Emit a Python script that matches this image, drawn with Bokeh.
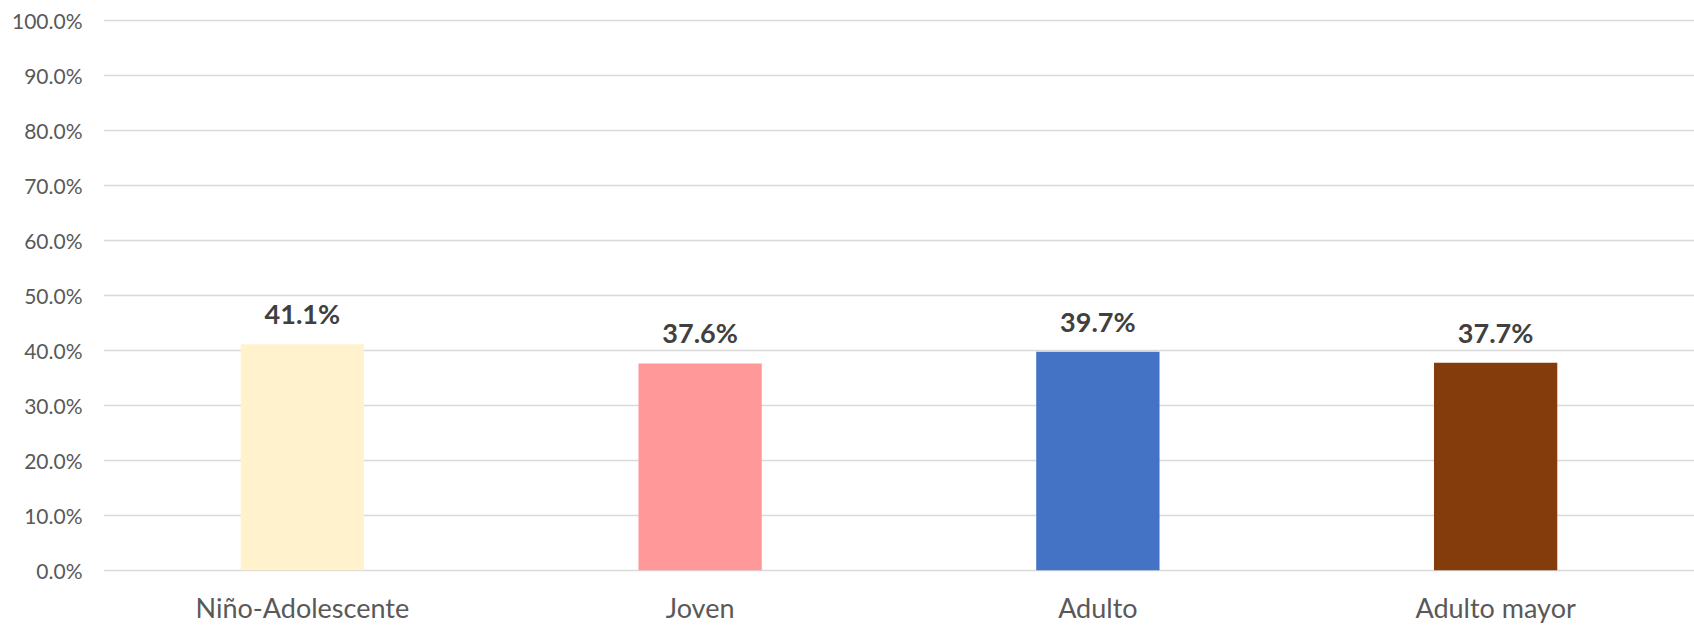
from bokeh.plotting import figure
from bokeh.models import ColumnDataSource, Range1d, FactorRange, LabelSet, NumeralTickFormatter, FixedTicker
from bokeh.core.properties import value
from bokeh.embed import file_html
from bokeh.resources import INLINE

categories = ["Niño-Adolescente", "Joven", "Adulto", "Adulto mayor"]
values = [0.411, 0.376, 0.397, 0.377]
colors = ["#FFF2CC", "#FF9999", "#4472C4", "#843C0C"]
labels = ["41.1%", "37.6%", "39.7%", "37.7%"]
y_ticks = [0.0, 0.1, 0.2, 0.3, 0.4, 0.5, 0.6, 0.7, 0.8, 0.9, 1.0]

source = ColumnDataSource(dict(cat=categories, val=values, color=colors, label=labels))

p = figure(
    x_range=FactorRange(factors=categories, range_padding=0),
    y_range=Range1d(-0.004, 1.01),
    width=1694, height=628,
    output_backend="svg", toolbar_location=None,
    min_border_left=103, min_border_right=0, min_border_top=14, min_border_bottom=56,
)
p.outline_line_color = None
p.background_fill_color = "white"
p.border_fill_color = "white"

p.vbar(x="cat", top="val", width=0.31, bottom=0, color="color", line_color=None, source=source)

ls = LabelSet(x="cat", y="val", text="label", source=source, y_offset=20,
              text_align="center", text_baseline="alphabetic",
              text_font=value("Lato"), text_font_style="bold", text_font_size="27px",
              text_color="#404040")
p.add_layout(ls)

p.xgrid.grid_line_color = None
p.ygrid.grid_line_color = "#D9D9D9"
p.ygrid.grid_line_width = 1.5
p.ygrid.ticker = FixedTicker(ticks=y_ticks)

p.yaxis.ticker = FixedTicker(ticks=y_ticks)
p.yaxis.formatter = NumeralTickFormatter(format="0.0%")
p.yaxis.axis_line_color = None
p.yaxis.major_tick_line_color = None
p.yaxis.minor_tick_line_color = None
p.yaxis.major_tick_out = 0
p.yaxis.minor_tick_out = 0
p.yaxis.major_label_standoff = 21
p.yaxis.major_label_text_font = "Lato"
p.yaxis.major_label_text_font_size = "21px"
p.yaxis.major_label_text_color = "#595959"

p.xaxis.axis_line_color = None
p.xaxis.major_tick_line_color = None
p.xaxis.major_tick_out = 0
p.xaxis.major_label_standoff = 18
p.xaxis.major_label_text_font = "Lato"
p.xaxis.major_label_text_font_size = "27px"
p.xaxis.major_label_text_color = "#595959"

open("out.html", "w").write(file_html(p, INLINE))
